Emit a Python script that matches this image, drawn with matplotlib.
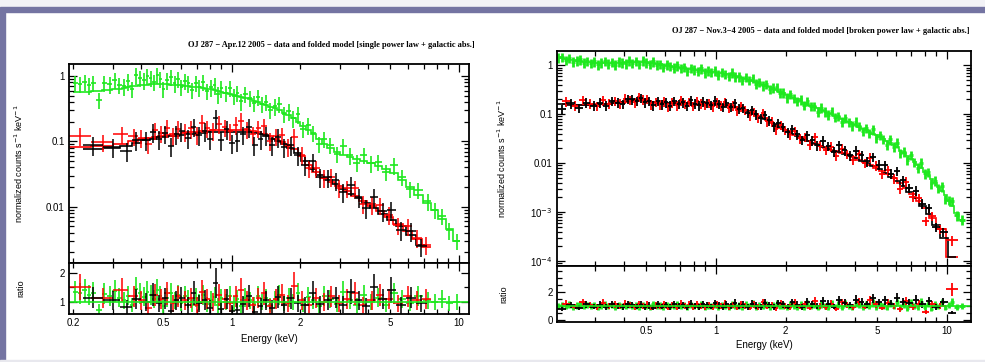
import matplotlib.pyplot as plt
import numpy as np
from matplotlib.patches import Rectangle
from matplotlib.ticker import FixedLocator, FuncFormatter, NullFormatter, LogLocator, MultipleLocator

plt.rcParams['font.family'] = ['Liberation Sans', 'DejaVu Sans']

# ---- left panel: OJ 287, Apr.12 2005 (energies keV, folded model, data/model ratio)
lb_e = [0.245, 0.30, 0.345, 0.38, 0.42, 0.45, 0.48, 0.51, 0.54, 0.57,
        0.60, 0.64, 0.68, 0.72, 0.76, 0.80, 0.85, 0.90, 0.95, 1.00,
        1.06, 1.12, 1.19, 1.26, 1.34, 1.42, 1.50, 1.60, 1.70, 1.82,
        1.95, 2.10, 2.27, 2.45, 2.65, 2.87, 3.10, 3.35, 3.62, 3.92,
        4.25, 4.62, 5.05, 5.55, 6.15, 6.85]
lb_model = [0.077, 0.079, 0.086, 0.095, 0.104, 0.110, 0.115, 0.118, 0.121, 0.123,
            0.125, 0.128, 0.130, 0.133, 0.135, 0.137, 0.138, 0.139, 0.140, 0.140,
            0.140, 0.139, 0.137, 0.134, 0.128, 0.120, 0.110, 0.100, 0.090, 0.079,
            0.066, 0.050, 0.038, 0.031, 0.026, 0.022, 0.0185, 0.0158, 0.0134, 0.0113,
            0.0094, 0.0078, 0.0063, 0.0050, 0.0037, 0.0026]
lb_ratio = [1.15, 1.05, 0.82, 1.10, 1.00, 1.25, 0.95, 1.12, 0.70, 1.05,
            1.15, 0.88, 1.30, 0.95, 1.08, 0.80, 1.65, 0.75, 1.10, 0.68,
            0.72, 0.92, 1.20, 0.66, 0.85, 1.05, 0.80, 1.18, 0.90, 1.12,
            0.95, 0.88, 1.30, 0.92, 1.08, 1.15, 0.90, 1.35, 1.05, 0.85,
            1.50, 1.10, 1.40, 0.88, 1.15, 0.95]

lr_e = [0.215, 0.27, 0.33, 0.37, 0.40, 0.43, 0.46, 0.49, 0.52, 0.55,
        0.58, 0.62, 0.66, 0.70, 0.74, 0.78, 0.83, 0.88, 0.93, 0.98,
        1.04, 1.10, 1.17, 1.24, 1.31, 1.39, 1.47, 1.56, 1.66, 1.77,
        1.89, 2.03, 2.18, 2.35, 2.54, 2.75, 2.98, 3.23, 3.50, 3.80,
        4.13, 4.50, 4.92, 5.40, 5.95, 6.55, 7.20]
lr_model = [0.082, 0.084, 0.092, 0.100, 0.108, 0.113, 0.118, 0.122, 0.125, 0.128,
            0.131, 0.134, 0.137, 0.140, 0.143, 0.145, 0.147, 0.148, 0.149, 0.150,
            0.150, 0.149, 0.147, 0.144, 0.139, 0.131, 0.121, 0.110, 0.099, 0.088,
            0.076, 0.060, 0.043, 0.034, 0.028, 0.024, 0.0205, 0.0175, 0.0148, 0.0124,
            0.0103, 0.0085, 0.0069, 0.0055, 0.0042, 0.0032, 0.0024]
lr_ratio = [1.50, 1.15, 1.40, 1.20, 1.05, 0.80, 1.25, 1.10, 1.30, 0.95,
            1.20, 1.05, 1.15, 0.90, 1.35, 1.10, 1.00, 1.25, 1.10, 0.95,
            1.20, 1.40, 1.05, 0.90, 1.15, 1.30, 0.85, 1.10, 1.25, 0.95,
            1.55, 1.05, 0.90, 1.15, 1.00, 1.20, 0.95, 1.10, 1.30, 0.90,
            1.05, 1.25, 1.10, 0.95, 1.20, 1.05, 1.10]

lg_e = [0.205, 0.215, 0.225, 0.235, 0.245, 0.26, 0.275, 0.29, 0.305, 0.32,
        0.335, 0.35, 0.365, 0.38, 0.395, 0.41, 0.425, 0.44, 0.455, 0.47,
        0.485, 0.50, 0.52, 0.54, 0.56, 0.58, 0.60, 0.62, 0.645, 0.67,
        0.695, 0.72, 0.75, 0.78, 0.81, 0.84, 0.87, 0.90, 0.94, 0.98,
        1.02, 1.06, 1.10, 1.15, 1.20, 1.25, 1.30, 1.36, 1.42, 1.48,
        1.55, 1.62, 1.70, 1.78, 1.87, 1.96, 2.06, 2.17, 2.29, 2.42,
        2.56, 2.72, 2.90, 3.10, 3.32, 3.56, 3.82, 4.10, 4.42, 4.78,
        5.18, 5.62, 6.10, 6.65, 7.30, 7.85, 8.45, 9.10, 9.80]
lg_model = [0.58, 0.58, 0.58, 0.58, 0.59, 0.60, 0.61, 0.62, 0.63, 0.64,
            0.66, 0.68, 0.70, 0.71, 0.72, 0.73, 0.74, 0.745, 0.75, 0.75,
            0.75, 0.75, 0.745, 0.74, 0.735, 0.73, 0.72, 0.71, 0.70, 0.69,
            0.68, 0.67, 0.655, 0.64, 0.625, 0.61, 0.595, 0.58, 0.56, 0.54,
            0.52, 0.50, 0.48, 0.46, 0.44, 0.42, 0.40, 0.38, 0.36, 0.34,
            0.32, 0.30, 0.275, 0.25, 0.225, 0.20, 0.175, 0.15, 0.128, 0.108,
            0.092, 0.080, 0.070, 0.063, 0.058, 0.054, 0.050, 0.046, 0.042, 0.038,
            0.033, 0.026, 0.020, 0.015, 0.0115, 0.0090, 0.0066, 0.0046, 0.0030]
lg_ratio = [1.35, 1.30, 1.40, 1.25, 1.32, 0.72, 1.28, 1.20, 1.38, 1.15,
            1.05, 1.22, 0.90, 1.45, 1.30, 1.18, 1.35, 1.25, 1.10, 1.40,
            1.20, 0.85, 1.15, 1.30, 1.05, 1.25, 0.95, 1.20, 1.10, 0.90,
            1.15, 1.00, 1.25, 0.92, 1.08, 1.18, 0.88, 1.12, 1.00, 1.22,
            0.95, 1.10, 0.85, 1.15, 1.05, 0.92, 1.20, 1.00, 1.12, 0.90,
            1.08, 1.25, 0.95, 1.15, 1.00, 1.30, 0.90, 1.18, 1.05, 0.85,
            1.20, 1.10, 0.92, 1.35, 1.05, 0.88, 1.25, 1.00, 1.15, 0.90,
            1.30, 1.10, 0.95, 1.20, 1.05, 1.00, 1.10, 0.95, 1.00]

# ---- right panel: OJ 287, Nov.3-4 2005
rb_e = [0.215, 0.235, 0.255, 0.275, 0.295, 0.315, 0.335, 0.355, 0.375, 0.395,
        0.415, 0.435, 0.455, 0.475, 0.495, 0.515, 0.535, 0.56, 0.585, 0.61,
        0.635, 0.66, 0.69, 0.72, 0.75, 0.78, 0.81, 0.845, 0.88, 0.915,
        0.95, 0.99, 1.03, 1.07, 1.11, 1.16, 1.21, 1.26, 1.31, 1.37,
        1.43, 1.49, 1.56, 1.63, 1.70, 1.78, 1.86, 1.95, 2.04, 2.14,
        2.25, 2.36, 2.48, 2.61, 2.75, 2.90, 3.06, 3.23, 3.41, 3.60,
        3.81, 4.03, 4.27, 4.52, 4.79, 5.08, 5.39, 5.72, 6.08, 6.46,
        6.87, 7.32, 7.80, 8.35, 8.95, 9.65, 10.5]
rb_model = [0.160, 0.158, 0.157, 0.157, 0.158, 0.160, 0.163, 0.167, 0.172, 0.178,
            0.185, 0.192, 0.198, 0.200, 0.195, 0.185, 0.176, 0.170, 0.167, 0.166,
            0.166, 0.166, 0.166, 0.166, 0.166, 0.166, 0.165, 0.165, 0.164, 0.163,
            0.162, 0.160, 0.158, 0.155, 0.151, 0.146, 0.140, 0.133, 0.125, 0.116,
            0.107, 0.098, 0.088, 0.079, 0.071, 0.063, 0.056, 0.050, 0.045, 0.040,
            0.036, 0.032, 0.029, 0.026, 0.0235, 0.0215, 0.0197, 0.0181, 0.0166, 0.0152,
            0.0138, 0.0125, 0.0112, 0.0099, 0.0087, 0.0075, 0.0064, 0.0053, 0.0043, 0.0034,
            0.0026, 0.0019, 0.00135, 0.00090, 0.00055, 0.00030, 0.00012]
rb_ratio = [0.80, 1.05, 0.85, 1.10, 0.95, 1.08, 0.92, 1.12, 1.00, 0.90,
            1.10, 1.05, 0.95, 1.08, 0.90, 1.02, 0.86, 1.10, 0.95, 1.05,
            0.90, 1.12, 0.98, 1.05, 0.88, 1.15, 1.00, 0.92, 1.10, 1.04,
            0.95, 1.18, 1.02, 0.90, 1.12, 0.96, 1.20, 0.98, 1.08, 0.92,
            1.15, 1.02, 0.94, 1.22, 1.05, 0.90, 1.18, 1.10, 0.95, 1.25,
            1.08, 0.92, 1.30, 1.12, 0.98, 1.35, 1.15, 0.95, 1.40, 1.20,
            1.05, 1.45, 1.30, 1.10, 1.55, 1.25, 1.40, 1.15, 1.60, 1.30,
            1.20, 1.45, 1.10, 1.35, 0.90, 1.30, 0.50]

rr_e = [0.225, 0.245, 0.265, 0.285, 0.305, 0.325, 0.345, 0.365, 0.385, 0.405,
        0.425, 0.445, 0.465, 0.485, 0.505, 0.525, 0.548, 0.572, 0.597, 0.622,
        0.648, 0.675, 0.705, 0.735, 0.765, 0.795, 0.828, 0.862, 0.898, 0.932,
        0.97, 1.01, 1.05, 1.09, 1.135, 1.185, 1.235, 1.285, 1.34, 1.40,
        1.46, 1.525, 1.595, 1.665, 1.74, 1.82, 1.905, 1.995, 2.09, 2.195,
        2.305, 2.42, 2.545, 2.68, 2.825, 2.98, 3.145, 3.32, 3.505, 3.705,
        3.92, 4.15, 4.395, 4.655, 4.935, 5.235, 5.555, 5.90, 6.27, 6.665,
        7.095, 7.56, 8.075, 8.65, 9.30, 10.5]
rr_model = [0.160, 0.158, 0.157, 0.157, 0.159, 0.161, 0.165, 0.169, 0.175, 0.181,
            0.188, 0.195, 0.199, 0.198, 0.190, 0.181, 0.173, 0.168, 0.166, 0.166,
            0.166, 0.166, 0.166, 0.166, 0.166, 0.165, 0.165, 0.164, 0.163, 0.162,
            0.161, 0.159, 0.156, 0.153, 0.149, 0.143, 0.137, 0.129, 0.121, 0.112,
            0.103, 0.093, 0.084, 0.075, 0.067, 0.060, 0.053, 0.048, 0.043, 0.038,
            0.034, 0.031, 0.028, 0.025, 0.0228, 0.0208, 0.0190, 0.0174, 0.0159, 0.0145,
            0.0131, 0.0118, 0.0105, 0.0093, 0.0081, 0.0070, 0.0059, 0.0049, 0.0040, 0.0031,
            0.0023, 0.0017, 0.0012, 0.00075, 0.00045, 0.00012]
rr_ratio = [1.15, 0.95, 1.25, 1.05, 0.92, 1.20, 1.00, 1.10, 0.95, 1.15,
            1.05, 0.90, 1.12, 1.00, 1.08, 0.88, 1.02, 0.95, 1.10, 0.85,
            1.05, 0.92, 1.15, 0.98, 1.08, 0.90, 1.12, 1.00, 0.94, 1.06,
            0.90, 1.10, 0.96, 1.15, 0.92, 1.05, 0.88, 1.12, 1.00, 0.85,
            1.08, 0.92, 1.25, 0.95, 1.05, 0.82, 1.15, 1.00, 0.90, 1.20,
            0.95, 1.10, 0.85, 1.35, 1.00, 0.90, 1.15, 0.80, 1.25, 1.05,
            0.90, 1.30, 0.95, 1.40, 1.10, 0.85, 1.20, 1.00, 0.75, 1.35,
            0.90, 1.15, 0.55, 1.10, 1.00, 2.20]

rg_e = [0.208, 0.216, 0.224, 0.232, 0.240, 0.249, 0.258, 0.267, 0.277, 0.287,
        0.297, 0.308, 0.319, 0.330, 0.342, 0.354, 0.366, 0.379, 0.392, 0.406,
        0.420, 0.435, 0.450, 0.466, 0.482, 0.499, 0.516, 0.534, 0.553, 0.572,
        0.592, 0.613, 0.634, 0.656, 0.679, 0.703, 0.727, 0.752, 0.778, 0.805,
        0.833, 0.862, 0.892, 0.923, 0.955, 0.988, 1.022, 1.058, 1.095, 1.133,
        1.172, 1.213, 1.255, 1.299, 1.344, 1.391, 1.439, 1.489, 1.541, 1.595,
        1.650, 1.708, 1.767, 1.829, 1.892, 1.958, 2.026, 2.097, 2.170, 2.246,
        2.324, 2.405, 2.489, 2.576, 2.666, 2.759, 2.855, 2.955, 3.058, 3.165,
        3.275, 3.390, 3.508, 3.630, 3.757, 3.888, 4.024, 4.164, 4.310, 4.460,
        4.616, 4.777, 4.944, 5.117, 5.296, 5.481, 5.672, 5.870, 6.075, 6.287,
        6.507, 6.734, 6.969, 7.212, 7.464, 7.725, 7.995, 8.274, 8.563, 8.862,
        9.171, 9.491, 9.823, 10.17, 10.52, 11.0, 11.6]
rg_model = [1.45, 1.40, 1.35, 1.31, 1.27, 1.24, 1.21, 1.19, 1.17, 1.15,
            1.14, 1.13, 1.12, 1.12, 1.12, 1.12, 1.12, 1.13, 1.14, 1.15,
            1.16, 1.17, 1.18, 1.18, 1.17, 1.15, 1.13, 1.10, 1.07, 1.04,
            1.01, 0.98, 0.96, 0.94, 0.92, 0.90, 0.88, 0.86, 0.84, 0.82,
            0.80, 0.785, 0.77, 0.755, 0.74, 0.725, 0.71, 0.69, 0.67, 0.65,
            0.63, 0.605, 0.58, 0.555, 0.53, 0.505, 0.48, 0.455, 0.43, 0.405,
            0.38, 0.355, 0.33, 0.31, 0.29, 0.27, 0.25, 0.232, 0.215, 0.20,
            0.186, 0.173, 0.161, 0.150, 0.140, 0.131, 0.122, 0.114, 0.106, 0.099,
            0.092, 0.086, 0.080, 0.074, 0.069, 0.064, 0.059, 0.055, 0.051, 0.047,
            0.043, 0.040, 0.037, 0.034, 0.031, 0.028, 0.026, 0.023, 0.021, 0.018,
            0.016, 0.014, 0.0122, 0.0106, 0.0092, 0.0079, 0.0067, 0.0057, 0.0048, 0.0040,
            0.0033, 0.0027, 0.0022, 0.0017, 0.0013, 0.00095, 0.0007]
rg_ratio = [1.00, 1.05, 0.96, 1.08, 0.94, 1.02, 1.10, 0.95, 1.04, 0.98,
            1.06, 0.93, 1.02, 1.09, 0.97, 1.04, 0.92, 1.07, 1.00, 0.95,
            1.08, 0.96, 1.03, 0.91, 1.06, 1.00, 0.94, 1.10, 0.97, 1.03,
            0.92, 1.07, 1.00, 0.95, 1.09, 0.98, 1.04, 0.90, 1.06, 1.01,
            0.96, 1.10, 0.93, 1.03, 0.98, 1.08, 0.91, 1.05, 1.00, 0.94,
            1.12, 0.97, 1.03, 0.90, 1.08, 0.99, 1.14, 0.93, 1.05, 0.96,
            1.10, 0.92, 1.06, 1.15, 0.95, 1.02, 0.88, 1.12, 1.00, 0.94,
            1.08, 0.90, 1.15, 0.98, 1.05, 0.86, 1.12, 1.00, 0.93, 1.18,
            0.95, 1.08, 0.88, 1.14, 1.00, 0.92, 1.20, 1.04, 0.90, 1.12,
            0.97, 1.22, 0.88, 1.10, 1.00, 0.85, 1.18, 0.95, 1.25, 0.90,
            1.08, 0.82, 1.20, 1.00, 0.88, 1.30, 0.92, 1.15, 0.80, 1.10,
            0.95, 1.25, 0.85, 1.05, 1.30, 0.90, 1.00]

GREEN = '#1ee81e'
W, H = 985, 362


def bin_edges(e):
    e = np.asarray(e)
    mid = np.sqrt(e[1:] * e[:-1])
    return np.concatenate([[e[0] ** 2 / mid[0]], mid, [e[-1] ** 2 / mid[-1]]])


def draw_set(ax, axr, e, model, ratio, rel, color, lw):
    e = np.asarray(e)
    model = np.asarray(model)
    ratio = np.asarray(ratio)
    ed = bin_edges(e)
    flux = model * ratio
    xerr = [e - ed[:-1], ed[1:] - e]
    ax.errorbar(e, flux, xerr=xerr, yerr=flux * rel, fmt='none', ecolor=color, elinewidth=lw)
    ax.stairs(model, ed, baseline=None, color=color, lw=1.2)
    axr.errorbar(e, ratio, xerr=xerr, yerr=ratio * rel, fmt='none', ecolor=color, elinewidth=lw)


def energy_label(v, pos):
    labels = {0.2: '0.2', 0.5: '0.5', 1: '1', 2: '2', 5: '5', 10: '10'}
    for k, s in labels.items():
        if abs(v - k) < 1e-6 * k:
            return s
    return ''


def style(ax, axr):
    for a in (ax, axr):
        a.set_xscale('log')
        a.xaxis.set_major_locator(FixedLocator([1, 10]))
        a.xaxis.set_minor_locator(FixedLocator([0.2, 0.3, 0.4, 0.5, 0.6, 0.7, 0.8, 0.9,
                                                2, 3, 4, 5, 6, 7, 8, 9]))
        a.xaxis.set_major_formatter(FuncFormatter(energy_label))
        a.xaxis.set_minor_formatter(FuncFormatter(energy_label))
        a.tick_params(which='both', direction='in', top=True, right=True,
                      labelsize=7, width=0.9, pad=3)
        a.tick_params(which='major', length=6)
        a.tick_params(which='minor', length=3.5)
        for s in a.spines.values():
            s.set_linewidth(1.3)
    ax.tick_params(which='both', labelbottom=False)
    ax.set_yscale('log')
    ax.yaxis.set_minor_locator(LogLocator(base=10, subs=np.arange(2, 10)))
    ax.yaxis.set_minor_formatter(NullFormatter())


fig = plt.figure(figsize=(W / 100, H / 100), dpi=100)

# frame decoration of the slide
fig.patches.append(Rectangle((0, 1 - 7 / H), 1, 7 / H, transform=fig.transFigure,
                             color='#f2f2f6', zorder=0))
fig.patches.append(Rectangle((0, 1 - 12 / H), 1, 5 / H, transform=fig.transFigure,
                             color='#7474a2', zorder=0))
fig.patches.append(Rectangle((0, 2 / H), 4.5 / W, 1 - 14 / H, transform=fig.transFigure,
                             color='#7474a2', zorder=0))
fig.patches.append(Rectangle((0, 0), 1, 2 / H, transform=fig.transFigure,
                             color='#e8e8ee', zorder=0))


def place(x0, x1, ytop, ysep, ybot):
    ax = fig.add_axes([x0 / W, 1 - ysep / H, (x1 - x0) / W, (ysep - ytop) / H])
    axr = fig.add_axes([x0 / W, 1 - ybot / H, (x1 - x0) / W, (ybot - ysep) / H], sharex=ax)
    return ax, axr


ylab = 'normalized counts s$^{-1}$ keV$^{-1}$'

# left panel
ax1, ax1r = place(69, 469, 64, 262.5, 313.5)
style(ax1, ax1r)
draw_set(ax1, ax1r, lg_e, lg_model, lg_ratio, 0.28, GREEN, 1.2)
draw_set(ax1, ax1r, lr_e, lr_model, lr_ratio, 0.30, 'red', 1.1)
draw_set(ax1, ax1r, lb_e, lb_model, lb_ratio, 0.32, 'black', 1.1)
ax1r.axhline(1, color=GREEN, lw=1.2)
ax1.set_xlim(0.192, 11.1)
ax1.set_ylim(0.0014, 1.53)
ax1.yaxis.set_major_locator(FixedLocator([0.01, 0.1, 1]))
ax1.set_yticklabels(['0.01', '0.1', '1'])
ax1r.set_ylim(0.6, 2.36)
ax1r.yaxis.set_major_locator(FixedLocator([1, 2]))
ax1r.yaxis.set_minor_locator(MultipleLocator(0.5))
ax1r.set_yticklabels(['1', '2'])
ax1.set_ylabel(ylab, fontsize=6.5)
ax1.yaxis.set_label_coords(-0.11, 0.5)
ax1r.set_ylabel('ratio', fontsize=6.5)
ax1r.yaxis.set_label_coords(-0.11, 0.5)
ax1r.set_xlabel('Energy (keV)', fontsize=7)
ax1r.xaxis.set_label_coords(0.5, -0.40)
fig.text(475 / W, 1 - 45 / H, 'OJ 287 \u2212 Apr.12 2005 \u2212 data and folded model [single power law + galactic abs.]',
         ha='right', va='center', fontsize=6, fontweight='bold', family=['Liberation Serif', 'DejaVu Serif'])

# right panel
ax2, ax2r = place(557, 971, 51, 266, 321.5)
style(ax2, ax2r)
draw_set(ax2, ax2r, rg_e, rg_model, rg_ratio, 0.22, GREEN, 2.0)
draw_set(ax2, ax2r, rr_e, rr_model, rr_ratio, 0.22, 'red', 1.3)
draw_set(ax2, ax2r, rb_e, rb_model, rb_ratio, 0.22, 'black', 1.3)
ax2r.axhline(1, color=GREEN, lw=1.2)
ax2.set_xlim(0.205, 12.7)
ax2.set_ylim(7.9e-5, 1.96)
ax2.yaxis.set_major_locator(FixedLocator([1e-4, 1e-3, 0.01, 0.1, 1]))
ax2.set_yticklabels(['10$^{-4}$', '10$^{-3}$', '0.01', '0.1', '1'])
ax2r.set_ylim(-0.14, 3.9)
ax2r.yaxis.set_major_locator(FixedLocator([0, 2]))
ax2r.yaxis.set_minor_locator(MultipleLocator(0.5))
ax2r.set_yticklabels(['0', '2'])
ax2.set_ylabel(ylab, fontsize=6.5)
ax2.yaxis.set_label_coords(-0.118, 0.5)
ax2r.set_ylabel('ratio', fontsize=6.5)
ax2r.yaxis.set_label_coords(-0.118, 0.5)
ax2r.set_xlabel('Energy (keV)', fontsize=7)
ax2r.xaxis.set_label_coords(0.5, -0.34)
fig.text(970 / W, 1 - 31 / H, 'OJ 287 \u2212 Nov.3\u22124 2005 \u2212 data and folded model [broken power law + galactic abs.]',
         ha='right', va='center', fontsize=6, fontweight='bold', family=['Liberation Serif', 'DejaVu Serif'])

fig.savefig('out.png', dpi=100)
